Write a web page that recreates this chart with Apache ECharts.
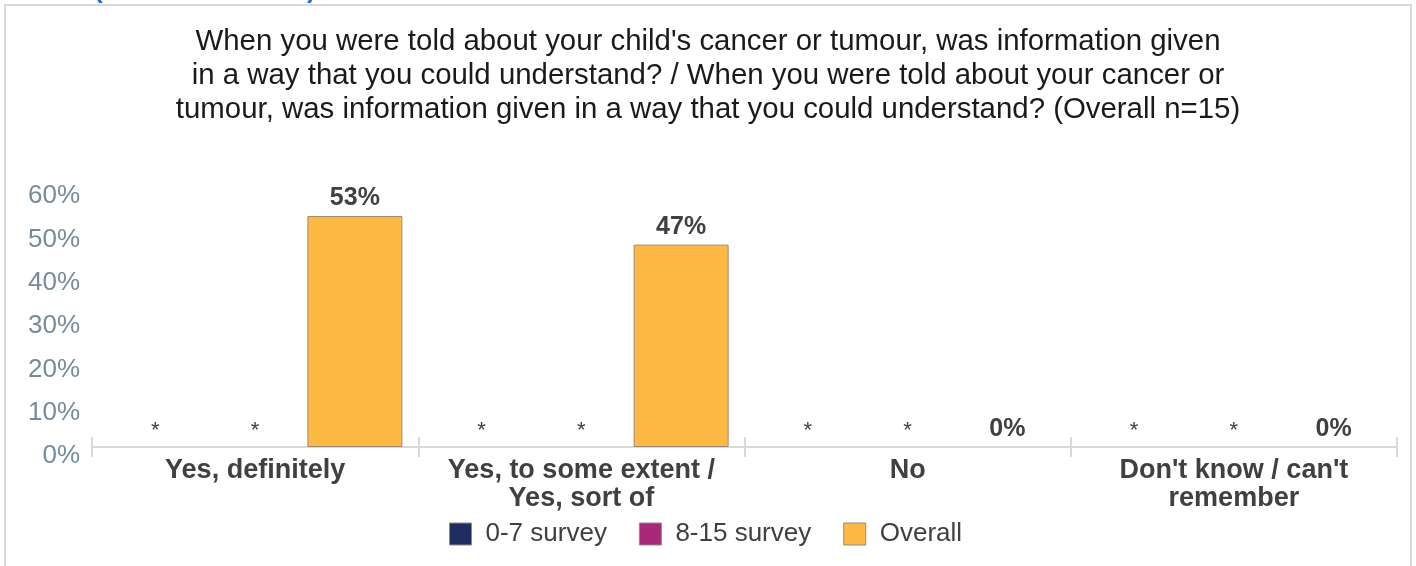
<!DOCTYPE html>
<html>
<head>
<meta charset="utf-8">
<script src="https://cdn.jsdelivr.net/npm/echarts@6/dist/echarts.min.js"></script>
<style>
html,body{margin:0;padding:0;background:#fff;}
#chart{width:1416px;height:566px;}
</style>
</head>
<body>
<div id="chart"></div>
<script>
const titleText = "When you were told about your child's cancer or tumour, was information given\nin a way that you could understand? / When you were told about your cancer or\ntumour, was information given in a way that you could understand? (Overall n=15)";
const categories = ['Yes, definitely', 'Yes, to some extent /\nYes, sort of', 'No', "Don't know / can't\nremember"];
const seriesNames = ['0-7 survey', '8-15 survey', 'Overall'];
const survey07 = ['*', '*', '*', '*'];
const survey815 = ['*', '*', '*', '*'];
const overall = [53.3, 46.7, 0, 0];
const yTicks = [0, 10, 20, 30, 40, 50, 60];
const colors = ['#1F2D5F', '#A8287A', '#FDB943'];

const FONT = 'Liberation Sans, Arial, sans-serif';

function toData(arr) {
  return arr.map(v => {
    if (v === '*') return { value: 0, suppressed: true, itemStyle: { borderWidth: 0 } };
    if (v === 0) return { value: 0, itemStyle: { borderWidth: 0 } };
    return { value: v };
  });
}

function labelFmt(p) {
  if (p.data && p.data.suppressed) return '{s|*}';
  return '{v|' + Math.round(p.value) + '%}';
}

const labelCfg = {
  show: true,
  position: 'top',
  distance: 5,
  formatter: labelFmt,
  rich: {
    s: { fontSize: 22, fontFamily: FONT, color: '#404040', fontWeight: 'normal' },
    v: { fontSize: 25, fontFamily: FONT, color: '#404040', fontWeight: 'bold' }
  }
};

const seriesData = [survey07, survey815, overall];

const chart = echarts.init(document.getElementById('chart'), null, { renderer: 'canvas' });
chart.setOption({
  backgroundColor: '#fff',
  animation: false,
  color: colors,
  title: {
    text: titleText,
    left: 'center',
    top: 20,
    textStyle: { fontSize: 29.4, fontWeight: 'normal', color: '#1a1a1a', fontFamily: FONT, lineHeight: 34 }
  },
  graphic: [
    { type: 'rect', shape: { x: 5, y: 5, width: 1406, height: 600 }, style: { fill: 'none', stroke: '#D9D9D9', lineWidth: 2 }, silent: true, z: -1 },
    { type: 'text', x: 94, y: -22, style: { text: '(', fontSize: 26, fontFamily: FONT, fontWeight: 'bold', fill: '#1F6FC5' } },
    { type: 'text', x: 307, y: -22, style: { text: ')', fontSize: 26, fontFamily: FONT, fontWeight: 'bold', fill: '#1F6FC5' } }
  ],
  legend: {
    data: seriesNames,
    left: 444,
    top: 516,
    icon: 'rect',
    itemWidth: 22,
    itemHeight: 22,
    itemGap: 32,
    itemStyle: { borderColor: '#8c8c8c', borderWidth: 1 },
    textStyle: { fontSize: 26, color: '#404040', fontFamily: FONT, padding: [0, 0, 0, 9] }
  },
  grid: { left: 92, right: 19, top: 187, bottom: 119 },
  xAxis: [
    {
      type: 'category',
      data: categories,
      axisLine: { lineStyle: { color: '#D9D9D9', width: 2 } },
      axisTick: { show: true, length: 10, lineStyle: { color: '#D9D9D9', width: 2 } },
      axisLabel: { interval: 0, margin: 10, fontSize: 27, fontWeight: 'bold', color: '#404040', fontFamily: FONT, lineHeight: 28 }
    },
    {
      type: 'category',
      data: categories,
      position: 'bottom',
      axisLine: { show: false },
      axisTick: { show: true, inside: true, length: 10, lineStyle: { color: '#D9D9D9', width: 2 } },
      axisLabel: { show: false }
    }
  ],
  yAxis: {
    type: 'value',
    min: yTicks[0],
    max: yTicks[yTicks.length - 1],
    interval: 10,
    axisLine: { show: false },
    axisTick: { show: false },
    splitLine: { show: false },
    axisLabel: {
      formatter: '{value}%',
      margin: 12,
      fontSize: 26,
      color: '#758C9C',
      fontFamily: FONT,
      verticalAlign: 'top',
      lineHeight: 18
    }
  },
  series: seriesNames.map((name, i) => ({
    name: name,
    type: 'bar',
    barWidth: 95,
    barGap: '5%',
    data: toData(seriesData[i]),
    itemStyle: { color: colors[i], borderColor: i === 2 ? '#9C8A70' : '#7f7f7f', borderWidth: 1 },
    label: labelCfg
  }))
});
</script>
</body>
</html>
